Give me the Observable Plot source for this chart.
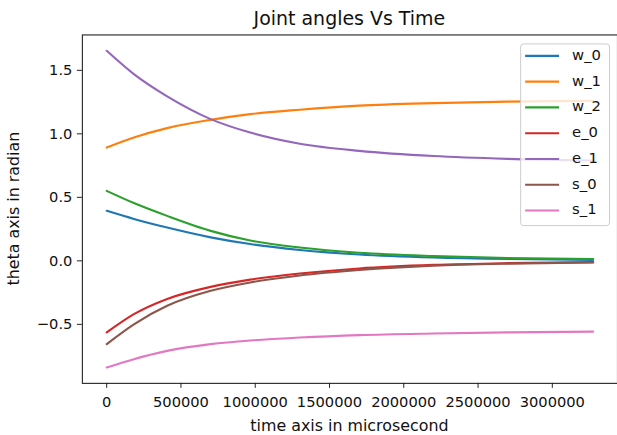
<!DOCTYPE html>
<html>
<head>
<meta charset="utf-8">
<script src="https://cdn.jsdelivr.net/npm/d3@7"></script>
<script src="https://cdn.jsdelivr.net/npm/@observablehq/plot@0.6"></script>
<style>
  html, body { margin: 0; padding: 0; background: #fff; overflow: hidden; }
  #chart { width: 617px; height: 435px; overflow: hidden; }
  svg { font-family: "DejaVu Sans", sans-serif; }
</style>
</head>
<body>
<div id="chart"></div>
<script>
// ---- data ----
const time = [0, 183000, 407000, 700000, 966000, 1300000, 1700000, 2200000, 2700000, 3275000];
const w_0 = [0.394, 0.330, 0.262, 0.185, 0.132, 0.086, 0.050, 0.026, 0.014, 0.008];
const w_1 = [0.892, 0.971, 1.045, 1.11, 1.155, 1.19, 1.222, 1.242, 1.254, 1.26];
const w_2 = [0.551, 0.455, 0.354, 0.236, 0.160, 0.105, 0.064, 0.038, 0.023, 0.014];
const e_0 = [-0.564, -0.42, -0.30, -0.205, -0.148, -0.100, -0.060, -0.032, -0.018, -0.010];
const e_1 = [1.654, 1.47, 1.295, 1.116, 1.01, 0.922, 0.866, 0.825, 0.803, 0.79];
const s_0 = [-0.656, -0.50, -0.354, -0.236, -0.17, -0.115, -0.072, -0.038, -0.022, -0.013];
const s_1 = [-0.84, -0.774, -0.709, -0.656, -0.627, -0.604, -0.585, -0.572, -0.563, -0.557];
const seriesNames = ["w_0", "w_1", "w_2", "e_0", "e_1", "s_0", "s_1"];
const seriesValues = [w_0, w_1, w_2, e_0, e_1, s_0, s_1];
const colors = ["#1f77b4", "#ff7f0e", "#2ca02c", "#d62728", "#9467bd", "#8c564b", "#e377c2"];
const xTicks = [0, 500000, 1000000, 1500000, 2000000, 2500000, 3000000];
const yTicks = [-0.5, 0.0, 0.5, 1.0, 1.5];
const title = "Joint angles Vs Time";
const xLabel = "time axis in microsecond";
const yLabel = "theta axis in radian";

const rows = [];
seriesNames.forEach((name, i) => {
  time.forEach((t, j) => rows.push({series: name, time: t, value: seriesValues[i][j]}));
});

// matplotlib-like 5% margins
const xMin = d3.min(time), xMax = d3.max(time);
const allY = seriesValues.flat();
const yMin = d3.min(allY), yMax = d3.max(allY);
const xPad = (xMax - xMin) * 0.05, yPad = (yMax - yMin) * 0.05;

const W = 618, H = 435;
const mL = 82, mR = 0, mT = 34.5, mB = 51.5;
const fsTick = 14.7, fsLabel = 15.9, fsTitle = 19, fsLegend = 14.8;

const plot = Plot.plot({
  width: W,
  height: H,
  marginLeft: mL,
  marginRight: mR,
  marginTop: mT,
  marginBottom: mB,
  style: {fontFamily: "DejaVu Sans, sans-serif", fontSize: fsTick + "px", color: "#111", background: "white", overflow: "visible"},
  x: {domain: [xMin - xPad, xMax + xPad]},
  y: {domain: [yMin - yPad, yMax + yPad]},
  color: {domain: seriesNames, range: colors},
  marks: [
    Plot.lineY(rows, {x: "time", y: "value", z: "series", stroke: "series", strokeWidth: 2.1, curve: "monotone-x"}),
    Plot.frame({stroke: "#222", strokeWidth: 1.1}),
    Plot.axisX({ticks: xTicks, tickFormat: d3.format("d"), tickSize: 5, tickPadding: 8, label: null, stroke: "#222"}),
    Plot.axisY({ticks: yTicks, tickFormat: d3.format(".1f"), tickSize: 5, tickPadding: 5, label: null, stroke: "#222"})
  ]
});

const svg = d3.select(plot);
const cx = mL + (W - mL - mR) / 2;
// title
svg.append("text").attr("x", cx).attr("y", 20).attr("text-anchor", "middle")
  .attr("dominant-baseline", "middle").attr("font-size", fsTitle).attr("fill", "#111").text(title);
// axis labels
svg.append("text").attr("x", cx).attr("y", 427).attr("text-anchor", "middle")
  .attr("dominant-baseline", "middle").attr("font-size", fsLabel).attr("fill", "#111").text(xLabel);
svg.append("text").attr("transform", `translate(15,${(mT + H - mB) / 2}) rotate(-90)`)
  .attr("text-anchor", "middle").attr("dominant-baseline", "middle")
  .attr("font-size", fsLabel).attr("fill", "#111").text(yLabel);

// legend
const color = plot.scale("color");
const lg = svg.append("g");
lg.append("rect").attr("x", 521.5).attr("y", 44).attr("width", 89).attr("height", 182)
  .attr("rx", 3).attr("fill", "white").attr("fill-opacity", 0.8).attr("stroke", "#ccc").attr("stroke-width", 1);
seriesNames.forEach((name, i) => {
  const y = 56 + i * 25.8;
  lg.append("line").attr("x1", 526).attr("x2", 560).attr("y1", y).attr("y2", y)
    .attr("stroke", color.apply(name)).attr("stroke-width", 2.1);
  lg.append("text").attr("x", 573).attr("y", y).attr("text-anchor", "start").attr("dominant-baseline", "middle")
    .attr("font-size", fsLegend).attr("fill", "#111").text(name);
});

document.getElementById("chart").appendChild(plot);
</script>
</body>
</html>
